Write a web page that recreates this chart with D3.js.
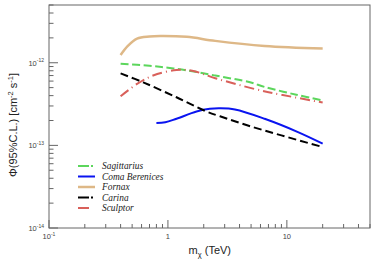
<!DOCTYPE html>
<html>
<head>
<meta charset="utf-8">
<script src="https://cdn.jsdelivr.net/npm/d3@7"></script>
<style>
  body { margin: 0; background: #fff; }
  svg { display: block; }
</style>
</head>
<body>
<script>
// masses in TeV, flux limits in units of 1e-12 cm^-2 s^-1
var sagittariusM = [0.4, 0.7, 1.0, 1.44, 2.5, 4.9, 6.5, 12, 20];
var sagittariusF = [0.97, 0.92, 0.87, 0.81, 0.70, 0.58, 0.51, 0.41, 0.35];

var comaM = [0.8, 0.95, 1.18, 1.74, 2.25, 2.74, 3.66, 6.5, 12.4, 20];
var comaF = [0.186, 0.19, 0.21, 0.257, 0.277, 0.281, 0.272, 0.21, 0.145, 0.105];

var fornaxM = [0.4, 0.46, 0.55, 0.7, 0.86, 1.44, 2.5, 6.5, 20];
var fornaxF = [1.24, 1.6, 1.96, 2.08, 2.11, 2.06, 1.84, 1.6, 1.49];

var carinaM = [0.4, 0.62, 1.18, 2.11, 2.74, 4.7, 9.0, 20];
var carinaF = [0.743, 0.579, 0.382, 0.257, 0.225, 0.174, 0.132, 0.0955];

var sculptorM = [0.4, 0.55, 0.75, 1.18, 1.6, 2.5, 5.4, 9.0, 20];
var sculptorF = [0.393, 0.554, 0.70, 0.817, 0.80, 0.65, 0.48, 0.41, 0.33];

var seriesNames = ["Sagittarius", "Coma Berenices", "Fornax", "Carina", "Sculptor"];
var xTickLabels = [{v: 0.1, base: "10", exp: "-1"}, {v: 1, base: "1"}, {v: 10, base: "10"}];
var yTickLabels = [{v: 1e-14, exp: "-14"}, {v: 1e-13, exp: "-13"}, {v: 1e-12, exp: "-12"}];

var width = 374, height = 268;
var margin = {left: 49, right: 4, top: 5, bottom: 40};
var axisColor = "#666";

var svg = d3.select("body").append("svg")
    .attr("width", width)
    .attr("height", height);

var x = d3.scaleLog().domain([0.1, 50]).range([margin.left, width - margin.right]);
var y = d3.scaleLog().domain([1e-14, 5e-12]).range([height - margin.bottom, margin.top]);

var series = [
    {name: seriesNames[0], m: sagittariusM, f: sagittariusF, color: "#5cd65c", dash: "8,3.5", legendDash: "11,2,2,20", w: 2},
    {name: seriesNames[1], m: comaM, f: comaF, color: "#0a14f0", dash: null, legendDash: null, w: 2},
    {name: seriesNames[2], m: fornaxM, f: fornaxF, color: "#deb887", dash: null, legendDash: null, w: 2.5},
    {name: seriesNames[3], m: carinaM, f: carinaF, color: "#000", dash: "8,4", legendDash: "11,2,2,20", w: 2},
    {name: seriesNames[4], m: sculptorM, f: sculptorF, color: "#d9605a", dash: "10,4,1,4", legendDash: "11,20", w: 2}
];

var line = d3.line()
    .x(function(d) { return x(d[0]); })
    .y(function(d) { return y(d[1] * 1e-12); })
    .curve(d3.curveCatmullRom.alpha(0.5));

// curves
series.forEach(function(s) {
    var pts = s.m.map(function(m, i) { return [m, s.f[i]]; });
    svg.append("path")
        .attr("d", line(pts))
        .attr("fill", "none")
        .attr("stroke", s.color)
        .attr("stroke-width", s.w)
        .attr("stroke-dasharray", s.dash);
});

// frame
var x0 = x.range()[0], x1 = x.range()[1], y0 = y.range()[0], y1 = y.range()[1];
svg.append("rect")
    .attr("x", x0).attr("y", y1)
    .attr("width", x1 - x0).attr("height", y0 - y1)
    .attr("fill", "none")
    .attr("stroke", axisColor)
    .attr("stroke-width", 1);

// x ticks (inside)
var xTicks = [];
[0.1, 1, 10].forEach(function(dec) {
    for (var k = 1; k <= 9; k++) {
        var v = k * dec;
        if (v <= 50) xTicks.push({v: v, major: k === 1});
    }
});
xTicks.forEach(function(t) {
    svg.append("line")
        .attr("x1", x(t.v)).attr("x2", x(t.v))
        .attr("y1", y0).attr("y2", y0 - (t.major ? 8 : 4))
        .attr("stroke", axisColor);
});

// y ticks (inside)
var yTicks = [];
[1e-14, 1e-13, 1e-12].forEach(function(dec) {
    for (var k = 1; k <= 9; k++) {
        var v = k * dec;
        if (v <= 5e-12) yTicks.push({v: v, major: k === 1});
    }
});
yTicks.forEach(function(t) {
    svg.append("line")
        .attr("x1", x0).attr("x2", x0 + (t.major ? 9 : 4.5))
        .attr("y1", y(t.v)).attr("y2", y(t.v))
        .attr("stroke", axisColor);
});

// tick labels
xTickLabels.forEach(function(t) {
    var txt = svg.append("text")
        .attr("x", x(t.v))
        .attr("y", y0 + 11)
        .attr("text-anchor", "middle")
        .attr("font-family", "Liberation Sans, Arial, sans-serif")
        .attr("font-size", 7.5)
        .attr("fill", "#444");
    txt.append("tspan").text(t.base);
    if (t.exp) txt.append("tspan").attr("dy", -3.5).attr("font-size", 5).text(t.exp);
});

yTickLabels.forEach(function(t) {
    var txt = svg.append("text")
        .attr("x", x0 - 5)
        .attr("y", y(t.v) + 3)
        .attr("text-anchor", "end")
        .attr("font-family", "Liberation Sans, Arial, sans-serif")
        .attr("font-size", 7.5)
        .attr("fill", "#444");
    txt.append("tspan").text("10");
    txt.append("tspan").attr("dy", -3.5).attr("font-size", 5).text(t.exp);
});

// axis titles
var xt = svg.append("text")
    .attr("x", 231)
    .attr("y", 254)
    .attr("text-anchor", "end")
    .attr("font-family", "Liberation Sans, Arial, sans-serif")
    .attr("font-size", 11)
    .attr("fill", "#222");
xt.append("tspan").text("m");
xt.append("tspan").attr("dy", 2.5).attr("font-size", 7.5).text("χ");
xt.append("tspan").attr("dy", -2.5).text(" (TeV)");

var yt = svg.append("text")
    .attr("transform", "translate(17," + 125 + ") rotate(-90)")
    .attr("text-anchor", "middle")
    .attr("font-family", "Liberation Sans, Arial, sans-serif")
    .attr("font-size", 11)
    .attr("fill", "#222");
yt.append("tspan").text("Φ(95%C.L.) [cm");
yt.append("tspan").attr("dy", -4.5).attr("font-size", 7.5).text("-2");
yt.append("tspan").attr("dy", 4.5).text(" s");
yt.append("tspan").attr("dy", -4.5).attr("font-size", 7.5).text("-1");
yt.append("tspan").attr("dy", 4.5).text("]");

// legend
var legend = svg.append("g");
series.forEach(function(s, i) {
    var ly = 166 + i * 10.5;
    legend.append("line")
        .attr("x1", 78).attr("x2", 95)
        .attr("y1", ly).attr("y2", ly)
        .attr("stroke", s.color)
        .attr("stroke-width", s.w)
        .attr("stroke-dasharray", s.legendDash);
    legend.append("text")
        .attr("x", 102)
        .attr("y", ly + 3)
        .attr("font-family", "Liberation Serif, Times New Roman, serif")
        .attr("font-style", "italic")
        .attr("font-size", 9.4)
        .attr("fill", "#222")
        .text(s.name);
});
</script>
</body>
</html>
